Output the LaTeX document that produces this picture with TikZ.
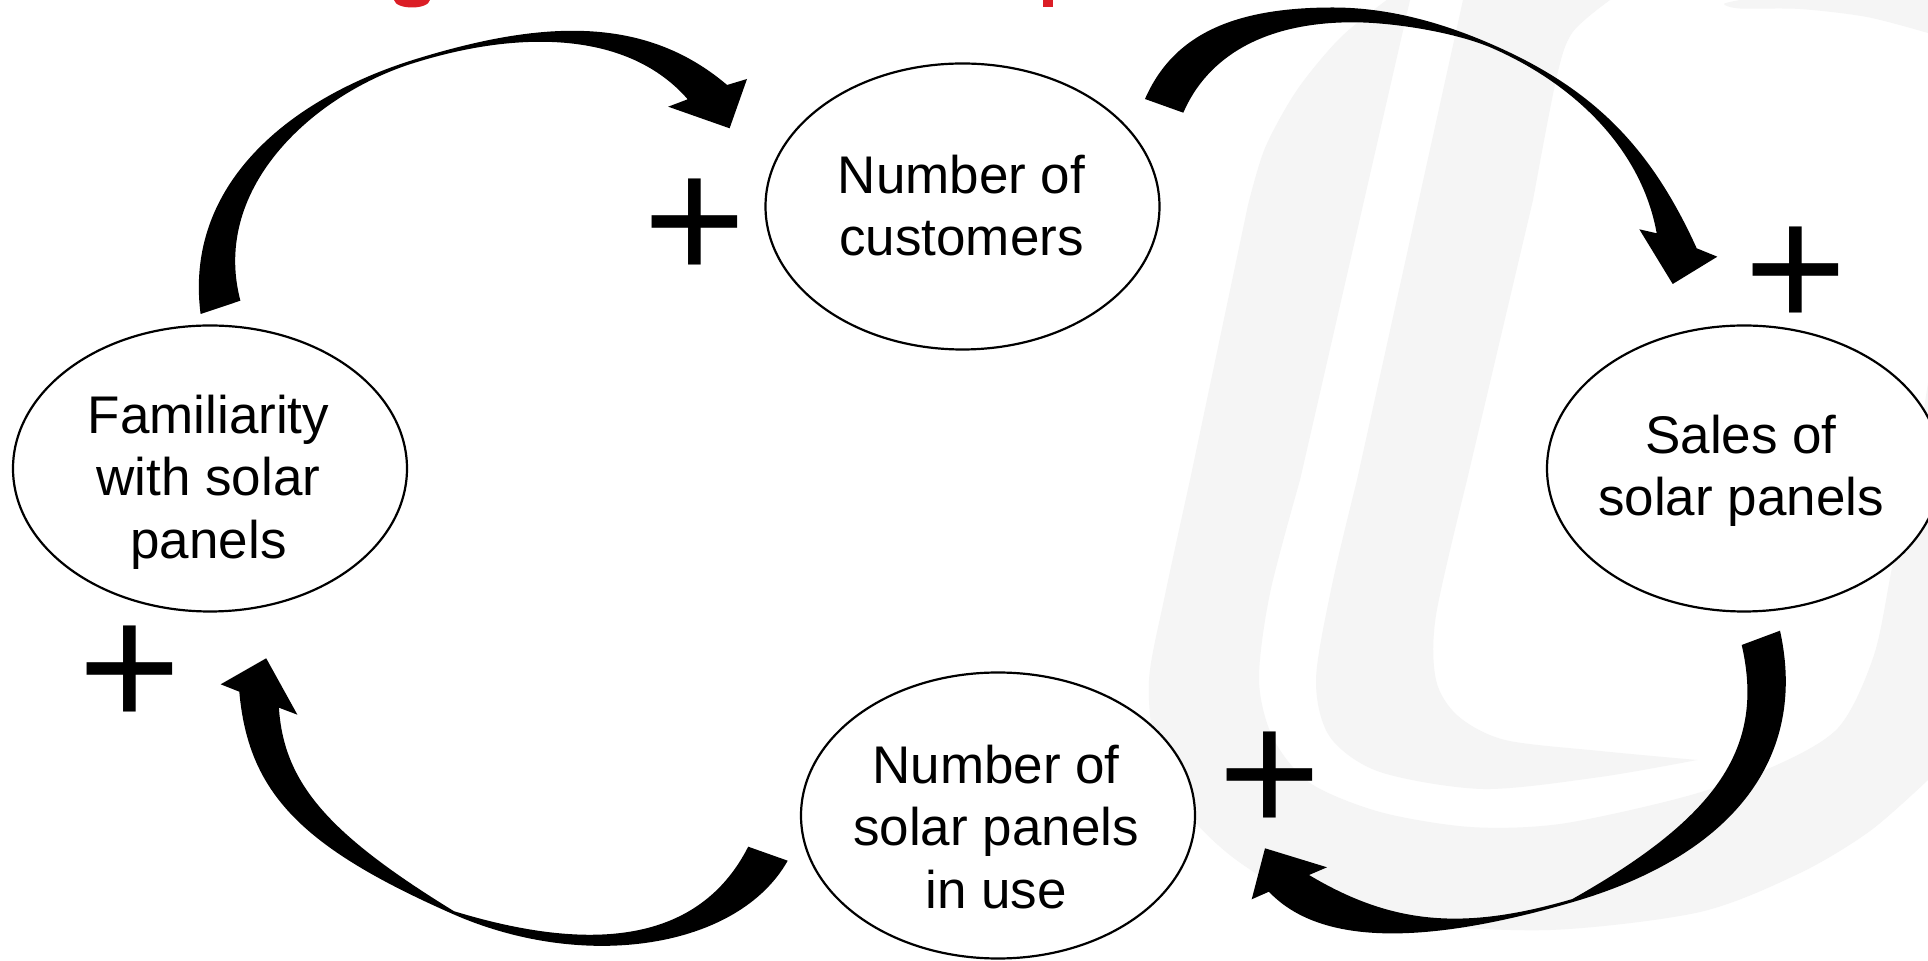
\documentclass[tikz,border=0pt]{standalone}
\usepackage{fontspec}
\setmainfont{Liberation Sans}
\usetikzlibrary{shapes.geometric}
\definecolor{wmgrey}{RGB}{245,245,245}
\definecolor{titlered}{RGB}{219,30,38}
\tikzset{
  bubble/.style={ellipse, draw=black, line width=1.1pt, fill=white,
    minimum width=197pt, minimum height=143pt, inner sep=0pt},
  bubbletext/.style={font=\fontsize{26.5pt}{31.25pt}\selectfont, align=center, inner sep=0pt},
  polarity/.style={font=\fontsize{88pt}{88pt}\selectfont, inner sep=0pt, anchor=base},
  blockarrow/.style={fill=black},
  watermark/.style={fill=wmgrey},
  titlebit/.style={fill=titlered},
}
\begin{document}
\begin{tikzpicture}[x=0.5pt,y=-0.5pt]
\useasboundingbox (0,0) rectangle (1928,961);
\clip (0,0) rectangle (1928,961);
\fill[white] (0,0) rectangle (1928,961);

% faint logo in the background: outer U stroke
\path[watermark] (1386.7,0)
  -- plot[smooth] coordinates {(1386.7,0) (1340,38) (1297,90) (1265,148) (1248,205)}
  -- plot[smooth] coordinates {(1190,480) (1165,595) (1149,680) (1156,750) (1185,810) (1235,859) (1310,903) (1400,923) (1550,930) (1700,912) (1800,873) (1870,831) (1928,780)}
  -- (1928,383)
  -- plot[smooth] coordinates {(1913,480) (1893,563) (1874,655) (1838,728) (1770,768) (1680,798) (1560,824) (1470,827) (1380,812) (1310,783) (1273,738) (1259,680) (1270,593) (1300,480)}
  -- (1410,0) -- cycle;
% inner stroke ending in a point
\path[watermark] (1463,0) -- (1357,480)
  -- plot[smooth] coordinates {(1357,480) (1332,585) (1316,680) (1330,737) (1380,772) (1483,789) (1600,777) (1697,760)}
  -- plot[smooth] coordinates {(1697,760) (1600,751) (1505,740) (1458,716) (1436,680) (1436,615) (1467,480)}
  -- plot[smooth] coordinates {(1533,200) (1556,80) (1572,33) (1610,0)}
  -- cycle;
% top of the bowl on the right
\path[watermark] plot[smooth] coordinates {(1740,0) (1724,4) (1740,8.5) (1800,9) (1867,17) (1928,33)} -- (1928,0) -- cycle;

% descenders of the red heading above the frame
\path[titlebit] (394,0) .. controls (396,10) and (428,10) .. (430,0) -- cycle;
\path[titlebit] (1043,0) rectangle (1053,7);

% variables
\node[bubble] (fam) at (210,468.5) {};
\node[bubble] (cust) at (962.5,206.5) {};
\node[bubble] (sales) at (1744,468.5) {};
\node[bubble] (inuse) at (998,815.5) {};

\node[bubbletext] (famtxt) at (208.5,482) {Familiarity\\with solar\\panels};
\node[bubbletext] (custtxt) at (961.5,205.4) {Number of\\customers};
\node[bubbletext] (salestxt) at (1741,470.7) {Sales of\\solar panels};
\node[bubbletext] (inusetxt) at (996,826.7) {Number of\\solar panels\\in use};

% curved block arrows of the loop
% familiarity -> customers
\path[blockarrow] (200.6,314)
  .. controls (183.7,184) and (290.3,98) .. (414.5,59.5)
  .. controls (538.7,21) and (643.3,13.7) .. (727.1,85)
  -- (747,79) -- (729.6,128.3) -- (668.2,106.7) -- (687.7,99.3)
  .. controls (628.7,31.3) and (520.5,29.9) .. (415.5,62.5)
  .. controls (318,92) and (210,185) .. (240.4,300.7) -- cycle;
% customers -> sales
\path[blockarrow] (1145,99)
  .. controls (1173,34.9) and (1233,7.5) .. (1333,7.5)
  .. controls (1393,7.5) and (1448.3,25.2) .. (1494,45.3)
  .. controls (1594.7,89.6) and (1651.2,148.2) .. (1696.7,248.3)
  -- (1717.3,256.7) -- (1672.7,284) -- (1639.3,229.3) -- (1656.7,233.3)
  .. controls (1641.7,149.7) and (1575.4,84.8) .. (1493,48.5)
  .. controls (1456.4,32.4) and (1393,22.3) .. (1353,22.3)
  .. controls (1263,22.3) and (1207.1,57.6) .. (1183.3,112.7) -- cycle;
% sales -> panels in use
\path[blockarrow] (1780,630.7)
  .. controls (1808.1,757.6) and (1733.3,855.2) .. (1573,902)
  .. controls (1418.6,947) and (1318.2,943.7) .. (1268.9,891.7)
  -- (1251.7,899.3) -- (1265,848.3) -- (1327,867.3) -- (1309,875)
  .. controls (1392,924.5) and (1463,930.9) .. (1572.2,899.1)
  .. controls (1718.4,816.8) and (1765.1,746.9) .. (1741.7,645) -- cycle;
% panels in use -> familiarity
\path[blockarrow] (787.7,860.7)
  .. controls (738.6,948.1) and (585.5,972.4) .. (452.8,914)
  .. controls (300.6,847) and (248.3,792.5) .. (239.3,691.7)
  -- (220.7,684.3) -- (266.2,658.3) -- (297.4,714.7) -- (278.9,707.7)
  .. controls (283.8,782.7) and (327.6,833.6) .. (454,911.2)
  .. controls (604.9,957.3) and (702.9,935.8) .. (748.2,846.7) -- cycle;

% link polarities
\node[polarity] (pcust) at (695,280.4) {+};
\node[polarity] (psales) at (1796,328.4) {+};
\node[polarity] (pinuse) at (1270,833.9) {+};
\node[polarity] (pfam) at (130,727.9) {+};
\end{tikzpicture}
\end{document}
